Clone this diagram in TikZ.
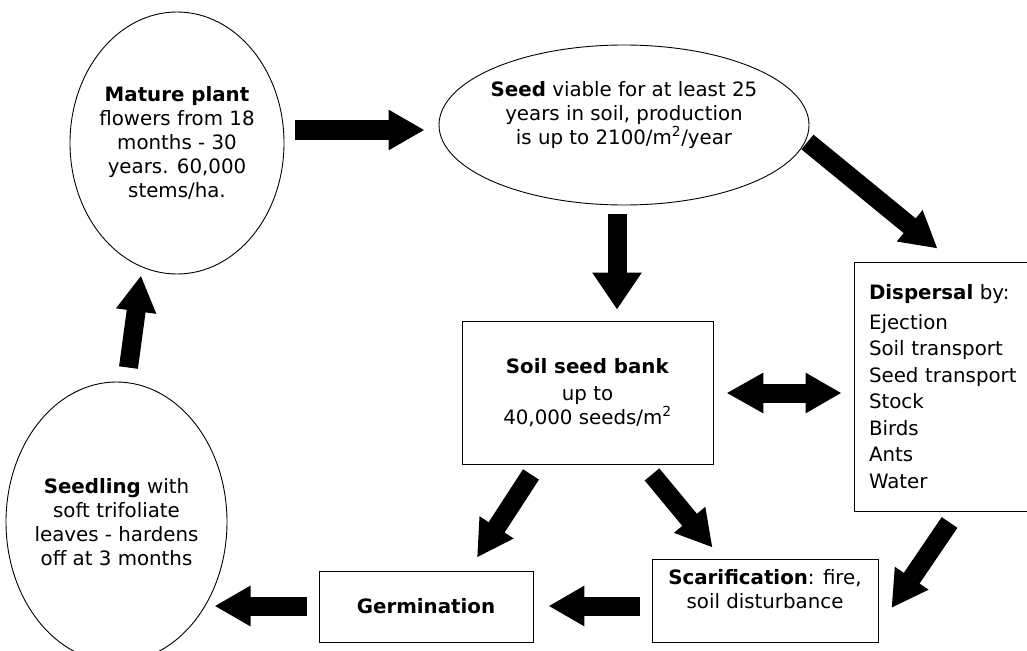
\documentclass[tikz,border=0pt]{standalone}
\usepackage{fontspec}
\setmainfont{DejaVu Sans}
\usetikzlibrary{arrows.meta,shapes.geometric}

\begin{document}
\begin{tikzpicture}[x=1pt,y=-1pt,
  font=\fontsize{19.8}{24}\selectfont,
  bubble/.style={ellipse,draw,line width=0.9pt,inner sep=-6pt,align=center},
  panel/.style={rectangle,draw,line width=0.9pt,inner sep=0pt,align=center},
  blockarrow/.style={line width=19pt,-{Triangle[length=36pt,width=38pt]}}]
  \useasboundingbox (0,0) rectangle (1027,650);
  \node[bubble,minimum width=214pt,minimum height=262pt] (mature) at (177,143)
    {\textbf{Mature plant}\\flowers from 18\\months - 30\\years. 60,000\\stems/ha.};
  \node[bubble,minimum width=370pt,minimum height=160pt] (seed) at (624,125)
    {\textbf{Seed} viable for at least 25\\years in soil, production\\is up to 2100/m\textsuperscript{2}/year\\\mbox{}};
  \node[panel,minimum width=251pt,minimum height=143pt] (bank) at (587.5,392.5)
    {\textbf{Soil seed bank}\\[3pt]up to\\40,000 seeds/m\textsuperscript{2}};
  \node[panel,align=left,text width=161pt,inner xsep=15pt,minimum height=249pt,
    font=\fontsize{19.8}{26.5}\selectfont] (disp) at (949.5,386.5)
    {\textbf{Dispersal} by:\\[3.5pt]Ejection\\Soil transport\\Seed transport\\Stock\\Birds\\Ants\\Water};
  \node[panel,minimum width=226pt,minimum height=83pt] (scar) at (765,600.5)
    {\textbf{Scarification}: fire,\\soil disturbance\\\mbox{}};
  \node[panel,minimum width=214pt,minimum height=71pt] (germ) at (426,606.5)
    {\textbf{Germination}};
  \node[bubble,minimum width=221pt,minimum height=280pt] (seedling) at (116.5,522)
    {\textbf{Seedling} with\\soft trifoliate\\leaves - hardens\\off at 3 months};

  \draw[blockarrow] ([shift={(11,-13)}]mature.east) -- ([shift={(-14,5)}]seed.west);
  \draw[blockarrow,-{Triangle[length=37pt,width=47pt]}]
    ([shift={(-7,9)}]seed.south) -- ([shift={(29.5,-11)}]bank.north);
  \draw[blockarrow] ([shift={(-2,17)}]seed.east) -- ([shift={(84,-13)}]disp.north west);
  \draw[blockarrow,{Triangle[length=37pt,width=38pt]}-{Triangle[length=36pt,width=38pt]}]
    ([shift={(13,0.5)}]bank.east) -- ([shift={(-12,6.5)}]disp.west);
  \draw[blockarrow] ([shift={(-56.5,10)}]bank.south) -- ([shift={(51,-13)}]germ.north);
  \draw[blockarrow] ([shift={(64.5,10)}]bank.south) -- ([shift={(61,-11)}]scar.north west);
  \draw[blockarrow] ([shift={(96,11)}]disp.south west) -- ([shift={(13,7.5)}]scar.east);
  \draw[blockarrow] ([shift={(-12,5.5)}]scar.west) -- ([shift={(15,-0.5)}]germ.east);
  \draw[blockarrow] ([shift={(-12,-0.5)}]germ.west) -- ([shift={(98,84)}]seedling.center);
  \draw[blockarrow] ([shift={(12,-14)}]seedling.north) -- ([shift={(-36,1)}]mature.south);
\end{tikzpicture}
\end{document}
